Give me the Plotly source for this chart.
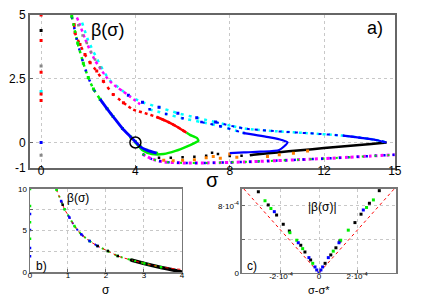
import plotly.graph_objects as go

# ---------------- panel a) data ----------------
lower_s = [1.30, 1.55, 1.79, 2.00, 2.22, 2.50, 2.80, 3.05, 3.45, 3.80, 4.00, 4.20, 4.48, 4.90]
lower_b = [4.95, 3.90, 3.11, 2.55, 2.10, 1.70, 1.32, 1.02, 0.55, 0.22, 0.03, -0.16, -0.30, -0.42]
loop_s = [4.00, 4.30, 4.70, 5.20, 5.70, 6.17, 6.50, 6.67, 6.60, 6.31, 6.17]
loop_b = [0.00, -0.30, -0.45, -0.45, -0.33, -0.16, -0.02, 0.06, 0.18, 0.30, 0.38]
red_s = [1.40, 1.44, 1.65, 1.86, 2.08, 2.36, 2.64, 3.06, 3.49, 3.91, 4.40, 4.90, 5.40, 5.80, 6.17]
red_b = [4.63, 4.30, 3.84, 3.45, 3.13, 2.80, 2.40, 1.88, 1.56, 1.29, 1.15, 1.00, 0.80, 0.60, 0.38]
mag_s = [1.52, 1.65, 1.85, 2.08, 2.30, 2.55, 2.78, 3.00, 3.20, 3.48, 3.80, 4.20]
mag_b = [4.90, 4.60, 4.10, 3.60, 3.20, 2.85, 2.55, 2.33, 2.18, 2.00, 1.78, 1.50]
grey_s = [1.58, 1.76, 1.94, 2.12, 2.29, 2.50]
grey_b = [4.60, 4.20, 3.90, 3.55, 3.25, 2.95]
cyan_up_s = [1.74, 2.00, 2.50, 2.90, 3.30, 3.70, 4.30, 5.00, 5.80, 6.60, 7.40]
cyan_up_b = [4.70, 4.00, 3.05, 2.45, 2.15, 1.85, 1.58, 1.38, 1.15, 0.97, 0.80]
outer_s = [7.40, 8.60, 10.0, 11.4, 12.8, 14.2, 14.65]
outer_b = [0.80, 0.55, 0.44, 0.36, 0.27, 0.10, 0.00]
cyan_lo_s = [4.60, 5.30, 6.00, 6.80, 7.60, 8.60]
cyan_lo_b = [1.30, 1.12, 0.95, 0.80, 0.64, 0.37]
inner_s = [8.60, 9.70, 10.2, 10.45, 10.1, 9.30, 8.60, 8.00]
inner_b = [0.37, 0.20, 0.10, 0.00, -0.29, -0.36, -0.39, -0.42]
black_s = [14.65, 14.0, 13.0, 12.0, 11.0, 10.0, 9.00, 8.85]
black_b = [0.00, -0.06, -0.14, -0.22, -0.30, -0.39, -0.48, -0.50]
blackdot_s = [8.5, 8.0, 7.5, 7.25, 7.0, 6.5, 6.0, 5.5, 5.0]
blackdot_b = [-0.52, -0.53, -0.45, -0.40, -0.52, -0.56, -0.58, -0.60, -0.60]
orange_s = [5.2, 5.6, 6.0, 6.5, 7.0, 7.3, 7.6, 8.0, 8.3, 9.6, 10.1, 10.7, 11.3]
orange_b = [-0.70, -0.72, -0.70, -0.68, -0.60, -0.55, -0.62, -0.45, -0.58, -0.55, -0.48, -0.42, -0.33]
bottom_s = [4.30, 4.70, 5.20, 6.00, 7.00, 8.00, 9.00, 10.0, 11.0, 12.0, 13.0, 14.0, 15.0]
bottom_b = [-0.45, -0.65, -0.76, -0.80, -0.80, -0.78, -0.75, -0.71, -0.67, -0.63, -0.58, -0.53, -0.48]
zero_b = [5.0, 4.39, 4.0, 3.0, 2.75, 2.0, 1.9, 1.65, 0.0, -0.5]
zero_c = ['#ff0000', '#000000', '#ff0000', '#888888', '#ff0000', '#00ffff', '#ff0000', '#ff0000', '#0000ff', '#888888']
crit_s = [4.0]
crit_b = [0.0]

a_xticks = [0, 4, 8, 12, 15]
a_yticks = [-1, 0, 2.5, 5]
a_yticklabels = ['-1', '0', '2.5', '5']

# ---------------- panel b) data ----------------
b_curve_s = [0.69, 0.82, 0.91, 1.04, 1.17, 1.35, 1.57, 1.78, 2.05, 2.31, 2.66, 3.01, 3.45, 3.97]
b_curve_b = [10.0, 8.55, 7.55, 6.55, 5.54, 4.54, 3.73, 3.13, 2.53, 1.93, 1.45, 1.04, 0.60, 0.32]
b_black_s = [2.66, 3.01, 3.45, 3.80, 4.00]
b_black_b = [1.45, 1.02, 0.55, 0.22, 0.00]
b_green_s = [0.70, 0.91, 1.17, 1.57, 2.05, 2.31, 2.66, 3.01, 3.45]
b_green_b = [9.90, 7.55, 5.54, 3.73, 2.53, 1.93, 1.45, 1.04, 0.58]
b_blue_s = [0.82, 1.04, 1.35, 1.57, 1.78]
b_blue_b = [8.55, 6.55, 4.54, 3.73, 3.13]
b_blk_s = [0.86, 1.78, 2.05, 2.31, 2.66]
b_blk_b = [8.10, 3.13, 2.53, 1.93, 1.45]
b_zero_green = [10.0, 7.95, 6.0, 4.0]
b_zero_blue = [7.0, 5.05, 2.9, 1.9]
b_xticks = [0, 1, 2, 3, 4]
b_yticks = [0, 2.5, 5, 7.5, 10]
b_yticklabels = ['0', ' ', '5', ' ', '10']

# ---------------- panel c) data ----------------
c_line_x = [-3.95e-4, 0.0, 3.95e-4]
c_line_y = [1.0e-3, 0.0, 1.0e-3]
c_black_x = [-3.19e-4, -2.67e-4, -2.23e-4, -1.88e-4, -1.56e-4, -0.96e-4, -0.74e-4, -0.44e-4,
             3.17e-4, 2.65e-4, 2.21e-4, 1.89e-4, 1.10e-4, 0.89e-4, 0.62e-4, 0.32e-4]
c_black_y = [9.67e-4, 8.1e-4, 6.9e-4, 5.8e-4, 5.0e-4, 3.3e-4, 2.5e-4, 1.55e-4,
             9.8e-4, 8.3e-4, 7.0e-4, 6.0e-4, 3.8e-4, 3.0e-4, 2.15e-4, 1.15e-4]
c_green_x = [-2.84e-4, -2.53e-4, -1.53e-4, -1.17e-4, -0.86e-4, -0.33e-4,
             2.86e-4, 2.50e-4, 1.54e-4, 1.14e-4, 0.75e-4]
c_green_y = [8.6e-4, 7.68e-4, 4.8e-4, 3.9e-4, 2.9e-4, 1.15e-4,
             8.7e-4, 7.8e-4, 5.1e-4, 3.9e-4, 2.6e-4]
c_blue_x = [-2.35e-4, -1.09e-4, -0.53e-4, -0.21e-4, -0.12e-4, 0.0,
            2.33e-4, 1.05e-4, 0.49e-4, 0.19e-4, 0.10e-4]
c_blue_y = [7.3e-4, 3.6e-4, 1.83e-4, 0.72e-4, 0.36e-4, 0.0,
            7.5e-4, 3.6e-4, 1.83e-4, 0.72e-4, 0.36e-4]
c_xticks = [-2e-4, 0, 2e-4]
c_xticklabels = ['-2·10<sup>-4</sup>', '0', '2·10<sup>-4</sup>']
c_yticks = [0, 4e-4, 8e-4]
c_yticklabels = ['0', ' ', '8·10<sup>-4</sup>']

BLUE, GREEN, RED, MAG, CYAN, GREY, ORANGE = '#0000ff', '#00ee00', '#ff0000', '#ff00ff', '#00ffff', '#888888', '#ff7f00'
FONT = 'Liberation Sans, Arial, sans-serif'

fig = go.Figure()


def dots(x, y, color, size=3, xa='x', ya='y', symbol='square'):
    fig.add_trace(go.Scatter(x=x, y=y, mode='markers', xaxis=xa, yaxis=ya,
                             marker=dict(color=color, size=size, symbol=symbol, line=dict(width=0)),
                             showlegend=False, hoverinfo='skip'))


def trail(x, y, color, width=3, dash='dot', xa='x', ya='y'):
    fig.add_trace(go.Scatter(x=x, y=y, mode='lines', xaxis=xa, yaxis=ya,
                             line=dict(color=color, width=width, dash=dash, shape='spline', smoothing=0.6),
                             showlegend=False, hoverinfo='skip'))


# --- panel a ---
trail(bottom_s, bottom_b, MAG, 3, 'dot')
trail(bottom_s, bottom_b, BLUE, 2.5, '2px,7px')
trail(bottom_s, bottom_b, GREEN, 2, '2px,11px')
trail(black_s, black_b, '#000000', 2.5, 'solid')
dots(blackdot_s, blackdot_b, '#000000', 2.5)
dots(orange_s, orange_b, ORANGE, 3)
trail(cyan_up_s, cyan_up_b, CYAN, 2.5, '3px,5px')
trail(outer_s, outer_b, CYAN, 2.5, 'dot')
trail(outer_s, outer_b, BLUE, 2, '3px,5px')
trail(outer_s[4:], outer_b[4:], BLUE, 2.2, 'solid')
trail(cyan_lo_s, cyan_lo_b, CYAN, 2.5, '3px,5px')
trail(cyan_lo_s[3:], cyan_lo_b[3:], BLUE, 2, '3px,6px')
trail(inner_s, inner_b, BLUE, 2.2, 'solid')
dots(cyan_up_s[5:], cyan_up_b[5:], BLUE, 3)
dots(cyan_lo_s, cyan_lo_b, BLUE, 2.5)
trail(mag_s, mag_b, MAG, 2.5, 'dot')
dots(grey_s, grey_b, GREY, 2.5)
trail(red_s[:9], red_b[:9], RED, 2.5, '3px,5px')
dots(red_s[:9], red_b[:9], RED, 3)
trail(red_s[8:], red_b[8:], RED, 2.5, 'dot')
trail(red_s[11:], red_b[11:], RED, 2.5, 'solid')
trail(lower_s[:8], lower_b[:8], GREEN, 2.5, '3px,4px')
trail(lower_s[:8], lower_b[:8], BLUE, 2.5, '2px,9px')
dots(lower_s, lower_b, GREEN, 3)
trail(loop_s, loop_b, GREEN, 2.5, 'solid')
trail(lower_s[5:], lower_b[5:], BLUE, 2.8, 'solid')
dots([0] * len(zero_b), zero_b, zero_c, 3)
fig.add_trace(go.Scatter(x=crit_s, y=crit_b, mode='markers',
                         marker=dict(symbol='circle-open', size=11, color='#000000', line=dict(width=1.5)),
                         showlegend=False, hoverinfo='skip'))

# --- panel b ---
trail(b_black_s, b_black_b, '#000000', 3.5, 'solid', 'x2', 'y2')
trail(b_curve_s[:13], b_curve_b[:13], GREEN, 2, '2px,5px', 'x2', 'y2')
trail(b_curve_s[1:8], b_curve_b[1:8], BLUE, 2, '2px,6px', 'x2', 'y2')
trail(b_curve_s, b_curve_b, RED, 1, 'dot', 'x2', 'y2')
dots(b_green_s, b_green_b, GREEN, 2.5, 'x2', 'y2')
dots(b_blue_s, b_blue_b, BLUE, 2.5, 'x2', 'y2')
dots(b_blk_s, b_blk_b, '#000000', 2.5, 'x2', 'y2')
dots([0] * 4, b_zero_green, GREEN, 2.5, 'x2', 'y2')
dots([0] * 4, b_zero_blue, BLUE, 2.5, 'x2', 'y2')

# --- panel c ---
fig.add_trace(go.Scatter(x=c_line_x, y=c_line_y, mode='lines', xaxis='x3', yaxis='y3',
                         line=dict(color=RED, width=1, dash='dot'), showlegend=False, hoverinfo='skip'))
dots(c_black_x, c_black_y, '#000000', 3, 'x3', 'y3')
dots(c_green_x, c_green_y, GREEN, 3, 'x3', 'y3')
dots(c_blue_x, c_blue_y, BLUE, 3, 'x3', 'y3')

grid = dict(showgrid=True, gridcolor='#c8c8c8', griddash='dot', gridwidth=1, zeroline=False,
            showline=True, mirror=True, ticks='inside', ticklen=3, tickcolor='#666')

fig.update_layout(
    width=425, height=298, margin=dict(l=0, r=0, t=0, b=0, pad=0, autoexpand=False),
    paper_bgcolor='white', plot_bgcolor='white', showlegend=False,
    font=dict(family=FONT, color='#000000'),
    xaxis=dict(domain=[0.0706, 0.929], range=[-0.47, 15], tickvals=a_xticks,
               tickfont=dict(size=12), linecolor='#666', linewidth=2, anchor='y',
               ticklabelstandoff=-9, automargin=False, **grid),
    yaxis=dict(domain=[0.4362, 0.9497], range=[-1, 5], tickvals=a_yticks, ticktext=a_yticklabels,
               tickfont=dict(size=12), linecolor='#666', linewidth=2, anchor='x', automargin=False, **grid),
    xaxis2=dict(domain=[0.0706, 0.428], range=[0, 4], tickvals=b_xticks,
                tickfont=dict(size=8), linecolor='#777', linewidth=1.5, anchor='y2',
                ticklabelstandoff=-5, automargin=False, **grid),
    yaxis2=dict(domain=[0.0872, 0.3658], range=[0, 10], tickvals=b_yticks, ticktext=b_yticklabels,
                tickfont=dict(size=8), linecolor='#777', linewidth=1.5, anchor='x2', automargin=False, **grid),
    xaxis3=dict(domain=[0.5694, 0.9318], range=[-4.05e-4, 4.05e-4], tickvals=c_xticks, ticktext=c_xticklabels,
                tickfont=dict(size=8), linecolor='#777', linewidth=1.5, anchor='y3',
                ticklabelstandoff=-5, automargin=False, **grid),
    yaxis3=dict(domain=[0.0839, 0.3658], range=[0, 1.0e-3], tickvals=c_yticks, ticktext=c_yticklabels,
                tickfont=dict(size=8), linecolor='#777', linewidth=1.5, anchor='x3', automargin=False, **grid),
)

ann = [
    dict(x=2.8, y=4.43, xref='x', yref='y', text='β(σ)', font=dict(size=18)),
    dict(x=14.15, y=4.5, xref='x', yref='y', text='a)', font=dict(size=18)),
    dict(x=0.5, y=1 - 180 / 298, xref='paper', yref='paper', text='σ', font=dict(size=20)),
    dict(x=1.26, y=8.95, xref='x2', yref='y2', text='β(σ)', font=dict(size=12)),
    dict(x=0.29, y=0.75, xref='x2', yref='y2', text='b)', font=dict(size=12)),
    dict(x=106 / 425, y=1 - 290 / 298, xref='paper', yref='paper', text='σ', font=dict(size=12)),
    dict(x=0.2e-4, y=7.9e-4, xref='x3', yref='y3', text='|β(σ)|', font=dict(size=12)),
    dict(x=-3.54e-4, y=0.84e-4, xref='x3', yref='y3', text='c)', font=dict(size=12)),
    dict(x=319 / 425, y=1 - 290 / 298, xref='paper', yref='paper', text='σ-σ*', font=dict(size=11)),
]
for a in ann:
    a.update(showarrow=False, xanchor='center', yanchor='middle')
    a['font'] = dict(family=FONT, color='#000000', **a['font'])
    fig.add_annotation(**a)

fig.write_html('out.html', config={'displayModeBar': False, 'staticPlot': True},
               post_script="document.body.style.margin='0px';document.body.style.padding='0px';")
